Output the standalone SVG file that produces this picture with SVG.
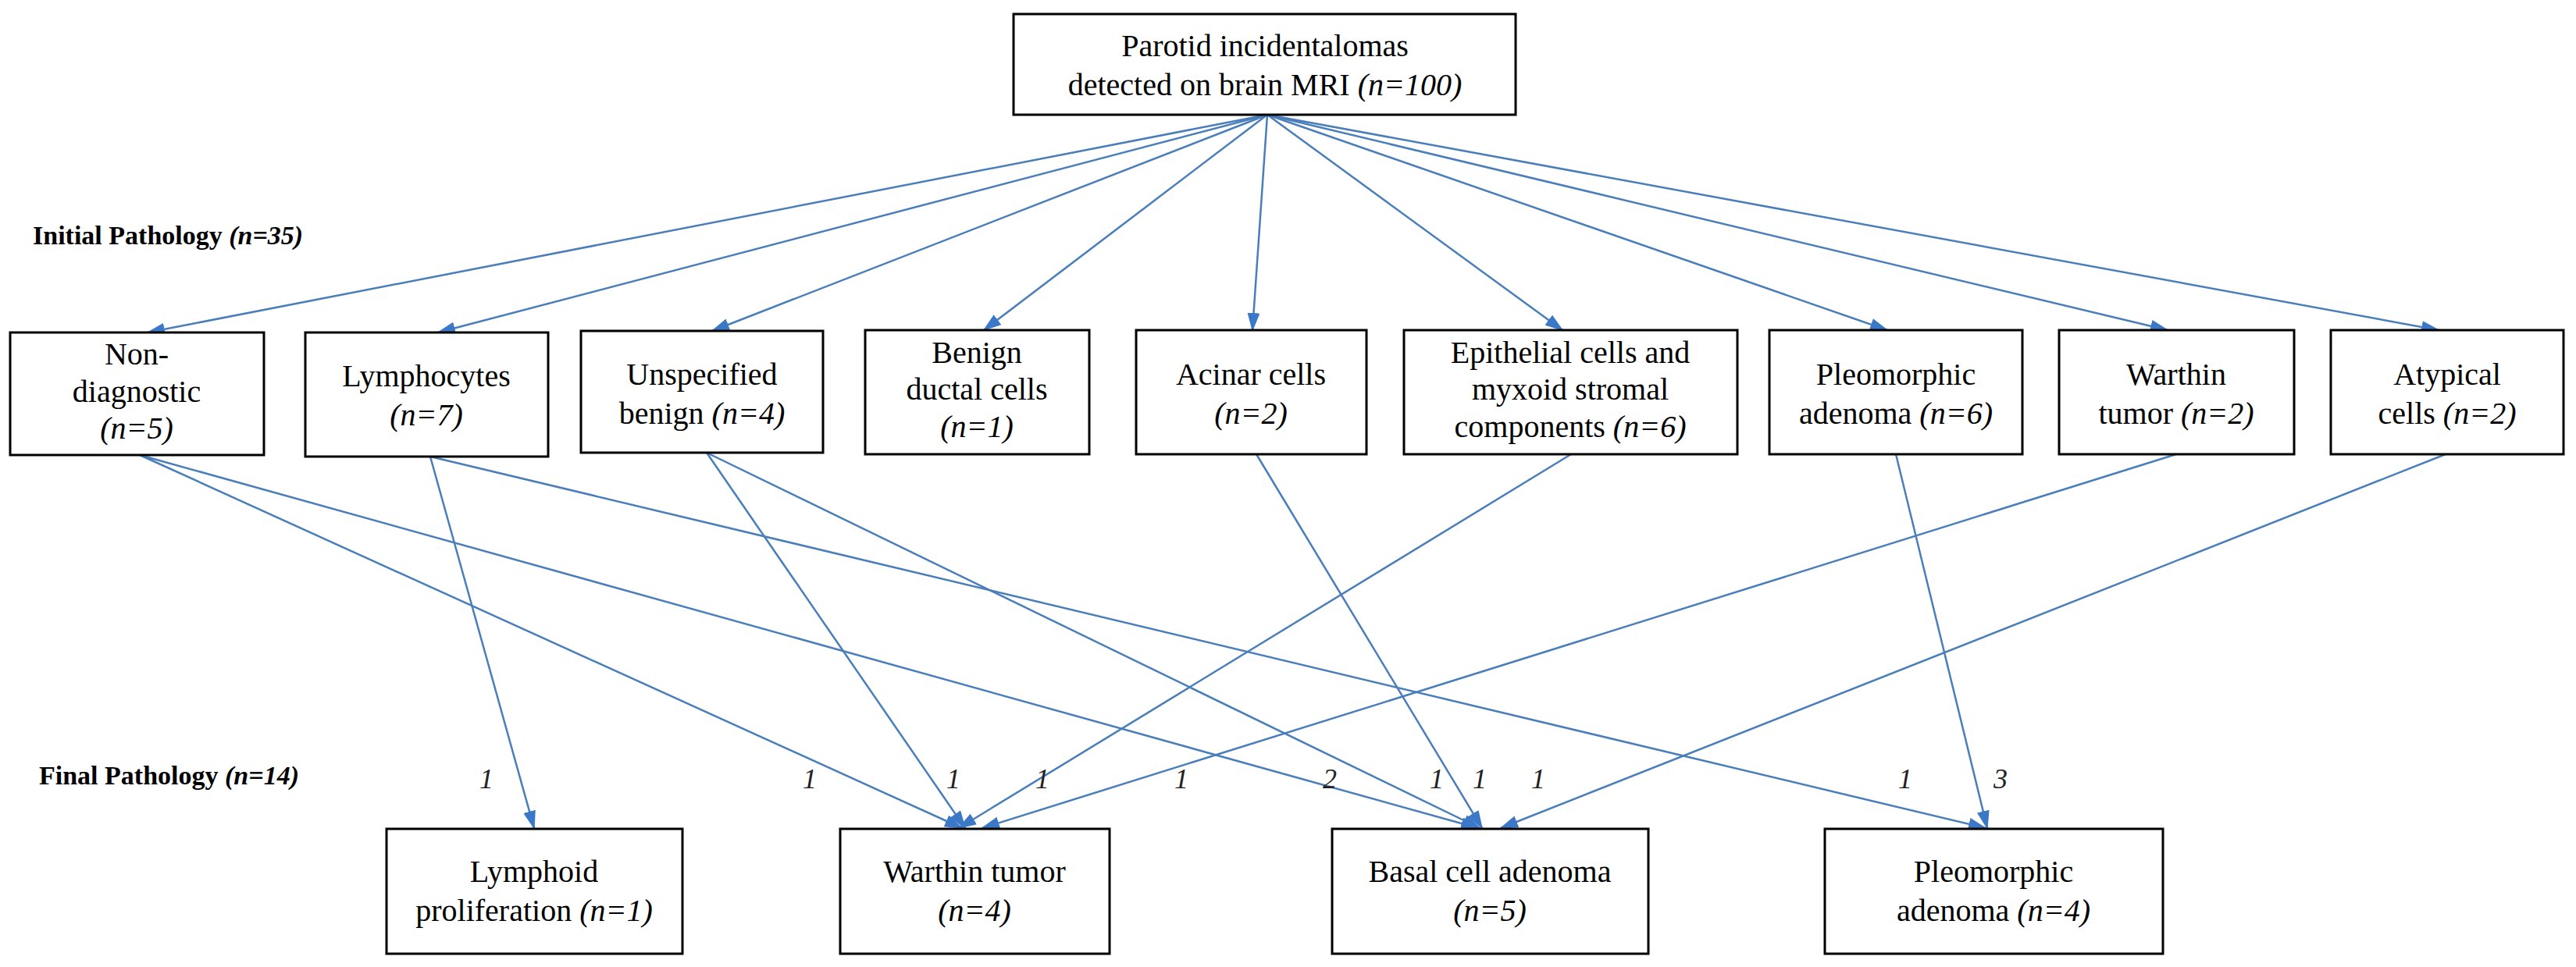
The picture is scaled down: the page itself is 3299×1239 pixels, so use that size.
<svg xmlns="http://www.w3.org/2000/svg" width="3299" height="1239" viewBox="0 0 3299 1239">
<style>
.box{fill:#fff;stroke:#000;stroke-width:3}
.t{font-family:"Liberation Serif",serif;font-size:40px;fill:#000;text-anchor:middle}
.i{font-style:italic}
.lab{font-family:"Liberation Serif",serif;font-size:34px;font-weight:bold;fill:#000}
.num{font-family:"Liberation Serif",serif;font-size:36px;font-style:italic;fill:#222;text-anchor:middle}
.c line{stroke:#4a7ebb;stroke-width:2.5;marker-end:url(#a)}
</style>
<defs>
<marker id="a" markerUnits="userSpaceOnUse" markerWidth="24" markerHeight="16" refX="22" refY="8" orient="auto">
<path d="M0,0 L24,8 L0,16 Z" fill="#3c78c8"/>
</marker>
</defs>
<rect width="3299" height="1239" fill="#fff"/>
<text class="lab" x="42" y="313">Initial Pathology <tspan class="i">(n=35)</tspan></text>
<text class="lab" x="50" y="1005">Final Pathology <tspan class="i">(n=14)</tspan></text>
<g class="c">
<line x1="1623" y1="147" x2="189" y2="426"/>
<line x1="1623" y1="147" x2="561" y2="426"/>
<line x1="1623" y1="147" x2="912" y2="424"/>
<line x1="1623" y1="147" x2="1260" y2="423"/>
<line x1="1623" y1="147" x2="1604" y2="423"/>
<line x1="1623" y1="147" x2="2001" y2="423"/>
<line x1="1623" y1="147" x2="2417" y2="423"/>
<line x1="1623" y1="147" x2="2776" y2="423"/>
<line x1="1623" y1="147" x2="3123" y2="423"/>
<line x1="179" y1="583" x2="1232" y2="1061"/>
<line x1="179" y1="583" x2="1893" y2="1061"/>
<line x1="551" y1="585" x2="684" y2="1061"/>
<line x1="551" y1="585" x2="2543" y2="1061"/>
<line x1="905" y1="580" x2="1236" y2="1061"/>
<line x1="905" y1="580" x2="1895" y2="1061"/>
<line x1="1609" y1="582" x2="1898" y2="1061"/>
<line x1="2012" y1="582" x2="1228" y2="1061"/>
<line x1="2428" y1="582" x2="2545" y2="1061"/>
<line x1="2787" y1="582" x2="1258" y2="1061"/>
<line x1="3132" y1="582" x2="1922" y2="1061"/>
</g>
<g id="top"><rect class="box" x="1298" y="18" width="643" height="129"/>
<text class="t" x="1620" y="72">Parotid incidentalomas</text>
<text class="t" x="1620" y="122">detected on brain MRI <tspan class="i">(n=100)</tspan></text></g>
<g id="nondiag"><rect class="box" x="13" y="426" width="325" height="157"/>
<text class="t" x="175" y="467">Non-</text><text class="t" x="175" y="515">diagnostic</text><text class="t i" x="175" y="562">(n=5)</text></g>
<g id="lymphocytes"><rect class="box" x="391" y="426" width="311" height="159"/>
<text class="t" x="546" y="495">Lymphocytes</text><text class="t i" x="546" y="545">(n=7)</text></g>
<g id="unspecified"><rect class="box" x="744" y="424" width="310" height="156"/>
<text class="t" x="899" y="493">Unspecified</text><text class="t" x="899" y="543">benign <tspan class="i">(n=4)</tspan></text></g>
<g id="ductal"><rect class="box" x="1108" y="423" width="287" height="159"/>
<text class="t" x="1251" y="465">Benign</text><text class="t" x="1251" y="512">ductal cells</text><text class="t i" x="1251" y="560">(n=1)</text></g>
<g id="acinar"><rect class="box" x="1455" y="423" width="295" height="159"/>
<text class="t" x="1602" y="493">Acinar cells</text><text class="t i" x="1602" y="543">(n=2)</text></g>
<g id="epithelial"><rect class="box" x="1798" y="423" width="427" height="159"/>
<text class="t" x="2011" y="465">Epithelial cells and</text><text class="t" x="2011" y="512">myxoid stromal</text><text class="t" x="2011" y="560">components <tspan class="i">(n=6)</tspan></text></g>
<g id="pleo"><rect class="box" x="2266" y="423" width="324" height="159"/>
<text class="t" x="2428" y="493">Pleomorphic</text><text class="t" x="2428" y="543">adenoma <tspan class="i">(n=6)</tspan></text></g>
<g id="warthin"><rect class="box" x="2637" y="423" width="301" height="159"/>
<text class="t" x="2787" y="493">Warthin</text><text class="t" x="2787" y="543">tumor <tspan class="i">(n=2)</tspan></text></g>
<g id="atypical"><rect class="box" x="2985" y="423" width="298" height="159"/>
<text class="t" x="3134" y="493">Atypical</text><text class="t" x="3134" y="543">cells <tspan class="i">(n=2)</tspan></text></g>
<g id="lymphoid"><rect class="box" x="495" y="1062" width="379" height="160"/>
<text class="t" x="684" y="1130">Lymphoid</text><text class="t" x="684" y="1180">proliferation <tspan class="i">(n=1)</tspan></text></g>
<g id="fwarthin"><rect class="box" x="1076" y="1062" width="345" height="160"/>
<text class="t" x="1248" y="1130">Warthin tumor</text><text class="t i" x="1248" y="1180">(n=4)</text></g>
<g id="basal"><rect class="box" x="1706" y="1062" width="405" height="160"/>
<text class="t" x="1908" y="1130">Basal cell adenoma</text><text class="t i" x="1908" y="1180">(n=5)</text></g>
<g id="fpleo"><rect class="box" x="2337" y="1062" width="433" height="160"/>
<text class="t" x="2553" y="1130">Pleomorphic</text><text class="t" x="2553" y="1180">adenoma <tspan class="i">(n=4)</tspan></text></g>
<g id="counts">
<text class="num" x="623" y="1010">1</text>
<text class="num" x="1037" y="1010">1</text>
<text class="num" x="1221" y="1010">1</text>
<text class="num" x="1335" y="1010">1</text>
<text class="num" x="1513" y="1010">1</text>
<text class="num" x="1703" y="1010">2</text>
<text class="num" x="1840" y="1010">1</text>
<text class="num" x="1895" y="1010">1</text>
<text class="num" x="1970" y="1010">1</text>
<text class="num" x="2440" y="1010">1</text>
<text class="num" x="2562" y="1010">3</text>
</g>
</svg>
